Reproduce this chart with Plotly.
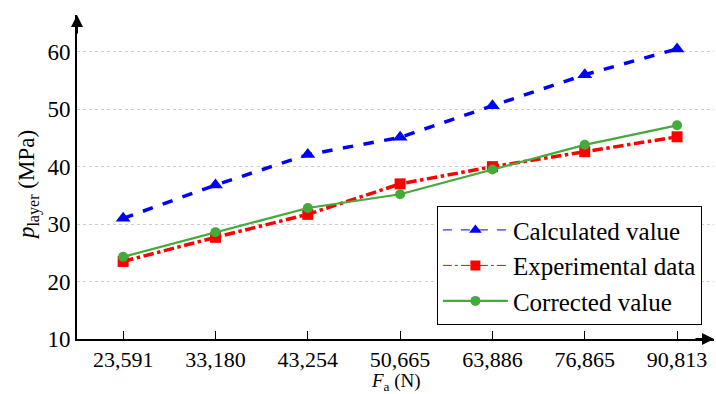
import plotly.graph_objects as go

categories = ["23,591", "33,180", "43,254", "50,665", "63,886", "76,865", "90,813"]
calculated = [31.0, 36.8, 42.1, 45.1, 50.6, 56.0, 60.5]
experimental = [23.5, 27.7, 31.7, 37.0, 40.0, 42.6, 45.2]
corrected = [24.3, 28.6, 32.8, 35.2, 39.5, 43.8, 47.2]
y_ticks = [10, 20, 30, 40, 50, 60]

FONT = "Liberation Serif"
xidx = list(range(len(categories)))

BLUE, RED, GREEN = "#0000ff", "#ff0000", "#44aa3c"

fig = go.Figure()
fig.add_trace(go.Scatter(x=xidx, y=calculated, name="Calculated value", mode="lines+markers",
                         showlegend=False,
                         line=dict(color=BLUE, width=3.5, dash="dash"),
                         marker=dict(symbol="triangle-up", size=13, color=BLUE)))
fig.add_trace(go.Scatter(x=xidx, y=experimental, name="Experimental data", mode="lines+markers",
                         showlegend=False,
                         line=dict(color=RED, width=3.5, dash="dashdot"),
                         marker=dict(symbol="square", size=11, color=RED)))
fig.add_trace(go.Scatter(x=xidx, y=corrected, name="Corrected value", mode="lines+markers",
                         showlegend=False,
                         line=dict(color=GREEN, width=2.2),
                         marker=dict(symbol="circle", size=10, color=GREEN)))

# legend entries (thin line styles as in the reference legend)
fig.add_trace(go.Scatter(x=[None], y=[None], name="Calculated value", mode="lines+markers",
                         line=dict(color=BLUE, width=1, dash="dash"),
                         marker=dict(symbol="triangle-up", size=11, color=BLUE)))
fig.add_trace(go.Scatter(x=[None], y=[None], name="Experimental data", mode="lines+markers",
                         line=dict(color=RED, width=1, dash="dashdot"),
                         marker=dict(symbol="square", size=10, color=RED)))
fig.add_trace(go.Scatter(x=[None], y=[None], name="Corrected value", mode="lines+markers",
                         line=dict(color=GREEN, width=2.2),
                         marker=dict(symbol="circle", size=10, color=GREEN)))

fig.update_layout(
    width=716, height=394,
    margin=dict(l=77, r=2, t=15, b=55, autoexpand=False),
    plot_bgcolor="white", paper_bgcolor="white",
    font=dict(family=FONT, size=22, color="black"),
    showlegend=True,
    legend=dict(x=0.565, xanchor="left", y=0.41, yanchor="top",
                bgcolor="white", bordercolor="black", borderwidth=1,
                font=dict(family=FONT, size=25), tracegroupgap=0,
                itemwidth=65),
    xaxis=dict(tickmode="array", tickvals=xidx, ticktext=categories,
               range=[-0.5, 6.4], showgrid=False, zeroline=False, automargin=False,
               showline=True, linecolor="black", linewidth=2,
               ticks="inside", ticklen=8, tickcolor="black", tickwidth=1,
               tickfont=dict(family=FONT, size=22)),
    yaxis=dict(range=[10, 66.4], tickvals=y_ticks, automargin=False,
               showgrid=True, gridcolor="#cccccc", griddash="dot", gridwidth=1,
               zeroline=False, showline=True, linecolor="black", linewidth=2,
               ticks="", tickfont=dict(family=FONT, size=23)),
)

# axis titles
fig.add_annotation(xref="paper", yref="paper", x=0.5, y=0, yshift=-43, yanchor="middle",
                   text="<i>F</i><sub>a</sub> (N)", showarrow=False,
                   font=dict(family=FONT, size=19))
fig.add_annotation(xref="paper", yref="paper", x=0, xshift=-49, y=0.475, xanchor="center",
                   yanchor="middle", textangle=-90,
                   text="<i>p</i><sub>layer</sub> (MPa)", showarrow=False,
                   font=dict(family=FONT, size=23))

# axis arrows
fig.add_annotation(xref="paper", yref="paper", x=0, y=1, ax=0, ay=20,
                   showarrow=True, arrowhead=2, arrowsize=1.2, arrowwidth=2,
                   arrowcolor="black", text="")
fig.add_annotation(xref="paper", yref="paper", x=1, y=0, ax=-20, ay=0,
                   showarrow=True, arrowhead=2, arrowsize=1.2, arrowwidth=2,
                   arrowcolor="black", text="")

fig.write_html("out.html", config={"displayModeBar": False},
               post_script="document.body.style.margin='0';document.body.style.overflow='hidden';")
